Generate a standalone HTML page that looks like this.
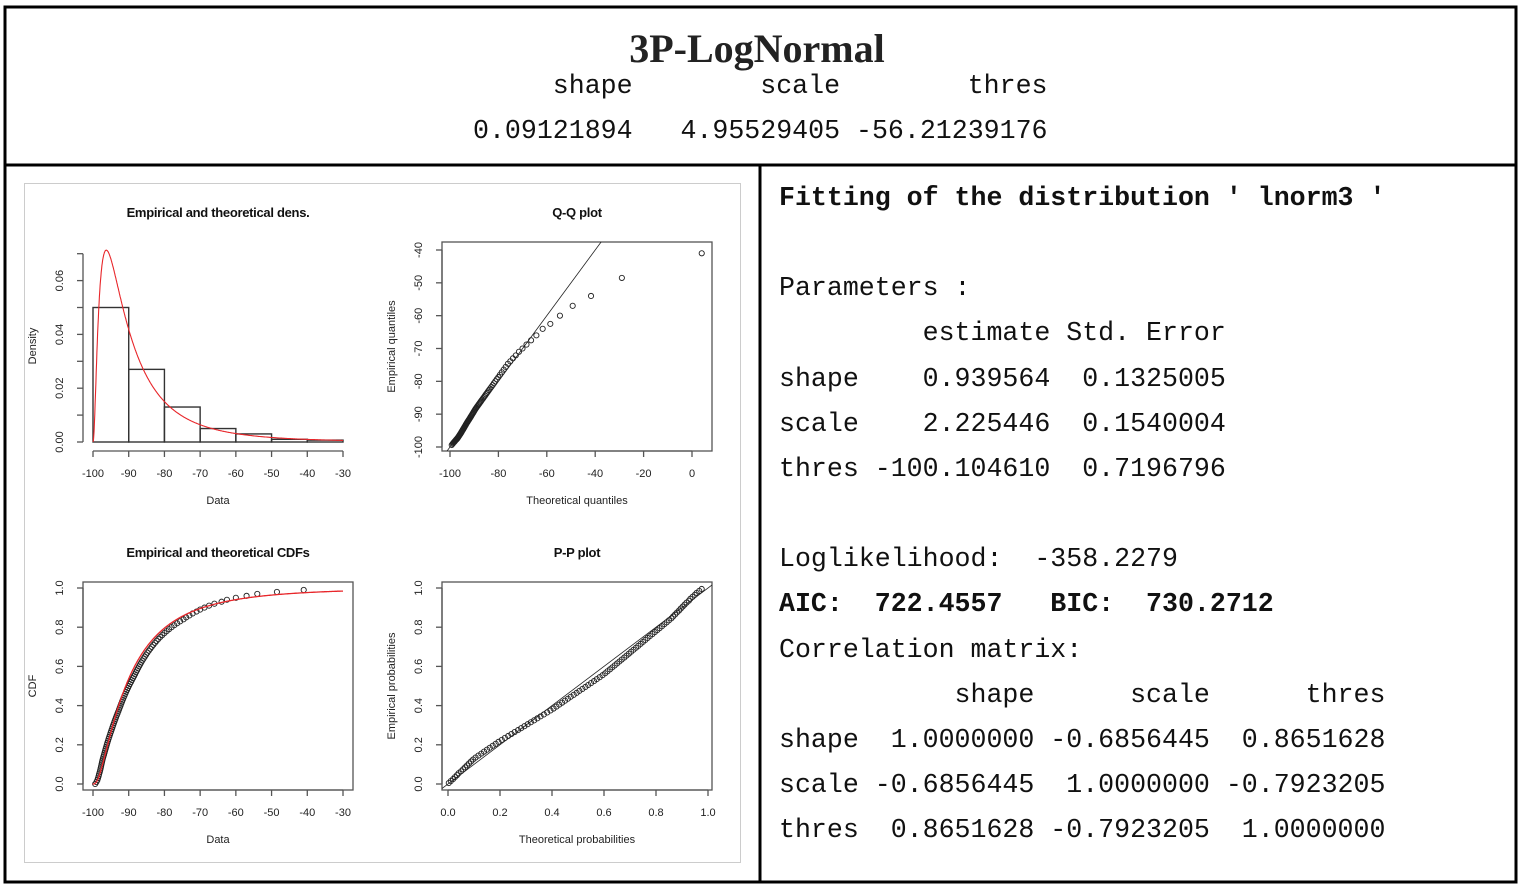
<!DOCTYPE html>
<html><head><meta charset="utf-8"><style>
body{margin:0;background:#fff;width:1523px;height:887px;overflow:hidden}
svg{display:block}
.m{font-family:"Liberation Mono",monospace;font-size:26.6px;fill:#111;white-space:pre}
.b{font-weight:bold}
.t{font-family:"Liberation Sans",sans-serif;font-size:11px;fill:#222}
.tt{font-family:"Liberation Sans",sans-serif;font-size:13px;font-weight:bold;fill:#111;letter-spacing:-0.3px}
</style></head><body>
<svg id="s" width="1523" height="887" xmlns="http://www.w3.org/2000/svg">
<rect x="5" y="7" width="1511" height="875" fill="none" stroke="#000" stroke-width="3"/>
<line x1="5" y1="165" x2="1516" y2="165" stroke="#000" stroke-width="3"/>
<line x1="760" y1="165" x2="760" y2="882" stroke="#000" stroke-width="3"/>
<text x="757" y="62" text-anchor="middle" style="font-family:'Liberation Serif',serif;font-weight:bold;font-size:40px;fill:#222">3P-LogNormal</text>
<text class="m" x="473" y="93">     shape        scale        thres</text>
<text class="m" x="473" y="138">0.09121894   4.95529405 -56.21239176</text>
<rect x="24.5" y="183.5" width="716" height="679" fill="none" stroke="#ccc"/>
<g>
<text class="m b" x="779" y="205">Fitting of the distribution ' lnorm3 '</text>
<text class="m" x="779" y="295">Parameters :</text>
<text class="m" x="779" y="340">         estimate Std. Error</text>
<text class="m" x="779" y="386">shape    0.939564  0.1325005</text>
<text class="m" x="779" y="431">scale    2.225446  0.1540004</text>
<text class="m" x="779" y="476">thres -100.104610  0.7196796</text>
<text class="m" x="779" y="566">Loglikelihood:  -358.2279</text>
<text class="m b" x="779" y="611">AIC:  722.4557   BIC:  730.2712</text>
<text class="m" x="779" y="657">Correlation matrix:</text>
<text class="m" x="779" y="702">           shape      scale      thres</text>
<text class="m" x="779" y="747">shape  1.0000000 -0.6856445  0.8651628</text>
<text class="m" x="779" y="792">scale -0.6856445  1.0000000 -0.7923205</text>
<text class="m" x="779" y="837">thres  0.8651628 -0.7923205  1.0000000</text>
</g>
</svg>
<script>
const fitThres = -100.10461;
const fitMeanlog = 2.225446;
const fitSdlog = 0.939564;
const histBreaks = [-100,-90,-80,-70,-60,-50,-40,-30];
const histDensity = [0.050,0.027,0.013,0.005,0.003,0.001,0.0007];
const empData = [-99.4,-99.03,-98.78,-98.6,-98.43,-98.3,-98.13,-97.99,-97.86,-97.74,
-97.62,-97.5,-97.38,-97.24,-97.08,-96.92,-96.77,-96.61,-96.46,-96.3,
-96.14,-95.99,-95.81,-95.64,-95.46,-95.28,-95.1,-94.91,-94.73,-94.54,
-94.35,-94.16,-93.96,-93.76,-93.56,-93.35,-93.13,-92.91,-92.7,-92.5,
-92.3,-92.09,-91.88,-91.66,-91.44,-91.2,-90.96,-90.73,-90.47,-90.21,
-89.95,-89.68,-89.4,-89.12,-88.82,-88.52,-88.23,-87.97,-87.68,-87.4,
-87.1,-86.8,-86.49,-86.17,-85.82,-85.49,-85.13,-84.77,-84.38,-83.96,
-83.55,-83.11,-82.65,-82.19,-81.69,-81.16,-80.59,-80.0,-79.36,-78.71,
-78.0,-77.25,-76.43,-75.6,-74.65,-73.9,-73.0,-72.1,-71.0,-70.0,
-68.8,-67.5,-66.0,-64.0,-62.5,-60.0,-57.0,-54.0,-48.5,-41.0];
const dataTicks = [-100,-90,-80,-70,-60,-50,-40,-30];
const densTicks = [0,0.01,0.02,0.03,0.04,0.05,0.06,0.07];
const densTickLabels = ["0.00","","0.02","","0.04","","0.06",""];
const qqXTicks = [-100,-80,-60,-40,-20,0];
const qqYTicks = [-100,-90,-80,-70,-60,-50,-40];
const probTicks = [0,0.2,0.4,0.6,0.8,1];
const probTickLabels = ["0.0","0.2","0.4","0.6","0.8","1.0"];

const NS="http://www.w3.org/2000/svg", S=document.getElementById('s');
function el(tag,attrs,parent){const e=document.createElementNS(NS,tag);for(const k in attrs)e.setAttribute(k,attrs[k]);(parent||S).appendChild(e);return e;}
function txt(x,y,s,cls,parent,rot,anchor){const e=el('text',{x:x,y:y,class:cls,'text-anchor':anchor||'middle'},parent);if(rot)e.setAttribute('transform','rotate(-90 '+x+' '+y+')');e.textContent=s;return e;}
function erf(x){const s=x<0?-1:1;x=Math.abs(x);const t=1/(1+0.3275911*x);const y=1-(((((1.061405429*t-1.453152027)*t)+1.421413741)*t-0.284496736)*t+0.254829592)*t*Math.exp(-x*x);return s*y;}
function pnorm(z){return 0.5*(1+erf(z/Math.SQRT2));}
function qnorm(p){const a=[-39.69683028665376,220.9460984245205,-275.9285104469687,138.357751867269,-30.66479806614716,2.506628277459239],b=[-54.47609879822406,161.5858368580409,-155.6989798598866,66.80131188771972,-13.28068155288572],c=[-0.007784894002430293,-0.3223964580411365,-2.400758277161838,-2.549732539343734,4.374664141464968,2.938163982698783],d=[0.007784695709041462,0.3224671290700398,2.445134137142996,3.754408661907416];const pl=0.02425;let q,r;if(p<pl){q=Math.sqrt(-2*Math.log(p));return(((((c[0]*q+c[1])*q+c[2])*q+c[3])*q+c[4])*q+c[5])/((((d[0]*q+d[1])*q+d[2])*q+d[3])*q+1);}if(p>1-pl){q=Math.sqrt(-2*Math.log(1-p));return-(((((c[0]*q+c[1])*q+c[2])*q+c[3])*q+c[4])*q+c[5])/((((d[0]*q+d[1])*q+d[2])*q+d[3])*q+1);}q=p-0.5;r=q*q;return(((((a[0]*r+a[1])*r+a[2])*r+a[3])*r+a[4])*r+a[5])*q/(((((b[0]*r+b[1])*r+b[2])*r+b[3])*r+b[4])*r+1);}
function dl(x){const u=x-fitThres;if(u<=0)return 0;const z=(Math.log(u)-fitMeanlog)/fitSdlog;return Math.exp(-z*z/2)/(u*fitSdlog*Math.sqrt(2*Math.PI));}
function pl(x){const u=x-fitThres;if(u<=0)return 0;return pnorm((Math.log(u)-fitMeanlog)/fitSdlog);}
function ql(p){return fitThres+Math.exp(fitMeanlog+fitSdlog*qnorm(p));}
function lin(d0,d1,r0,r1){return v=>r0+(v-d0)*(r1-r0)/(d1-d0);}
const n=empData.length, sorted=empData.slice().sort((a,b)=>a-b);

function axes(g,X,Y,xt,xl,yt,yl,box,xAxisY,yAxisX,title,xlab,ylab,cx,titleY){
  if(box){const r=el('rect',{x:box[0],y:box[1],width:box[2]-box[0],height:box[3]-box[1],fill:'none',stroke:'#555','stroke-width':1.3},g);
    
    }
  const xa=el('g',{},g);
  
  
  el('line',{x1:X(xt[0]),x2:X(xt[xt.length-1]),y1:xAxisY,y2:xAxisY,stroke:'#555','stroke-width':1.3},xa);
  xt.forEach((v,i)=>{el('line',{x1:X(v),x2:X(v),y1:xAxisY,y2:xAxisY+6,stroke:'#555','stroke-width':1.3},xa);txt(X(v),xAxisY+26,xl[i],'t',xa);});
  const ya=el('g',{},g);
  
  
  el('line',{x1:yAxisX,x2:yAxisX,y1:Y(yt[0]),y2:Y(yt[yt.length-1]),stroke:'#555','stroke-width':1.3},ya);
  yt.forEach((v,i)=>{el('line',{x1:yAxisX,x2:yAxisX-6,y1:Y(v),y2:Y(v),stroke:'#555','stroke-width':1.3},ya);txt(yAxisX-20,Y(v),yl[i],'t',ya,true);});
  const t=txt(cx,titleY,title,'tt',g);
  
  
  const xlt=txt(cx,xAxisY+53,xlab,'t',g);
  
  
  const ylt=txt(yAxisX-47,(box?(box[1]+box[3])/2:346),ylab,'t',g,true);
  
  
}
function circle(g,x,y){const c=el('circle',{cx:x,cy:y,r:2.6,fill:'none',stroke:'#222','stroke-width':0.9},g);}

// Density panel
{const g=el('g',{});


const X=lin(-100,-30,93,343),Y=lin(0,0.06,442,280.6);
axes(g,X,Y,dataTicks,dataTicks.map(String),densTicks,densTickLabels,null,451,83,'Empirical and theoretical dens.','Data','Density',218,217);
histDensity.forEach((d,i)=>{const r=el('rect',{x:X(histBreaks[i]),y:Y(d),width:X(histBreaks[i+1])-X(histBreaks[i]),height:Y(0)-Y(d),fill:'none',stroke:'#333','stroke-width':1.4},g);

});
let p='';for(let x=-100;x<=-30;x+=0.1){p+=(p?'L':'M')+X(x).toFixed(1)+','+Y(dl(x)).toFixed(1);}
const c=el('path',{d:p,fill:'none',stroke:'#e8262a','stroke-width':1.1},g);

}

// QQ panel
{const g=el('g',{});


const X=lin(-100,0,450,692),Y=lin(-100,-40,447,250);
axes(g,X,Y,qqXTicks,qqXTicks.map(String),qqYTicks,qqYTicks.map(String),[442,242,712,451],451,442,'Q-Q plot','Theoretical quantiles','Empirical quantiles',577,217);
const cp=el('clipPath',{id:'qqc'},g);el('rect',{x:442,y:242,width:270,height:209},cp);
const l=el('line',{x1:X(-102),y1:Y(-102),x2:X(-30),y2:Y(-30),stroke:'#222','stroke-width':0.8,'clip-path':'url(#qqc)'},g);


sorted.forEach((v,i)=>circle(g,X(ql((i+0.5)/n)),Y(v)));}

// CDF panel
{const g=el('g',{});


const X=lin(-100,-30,93,343),Y=lin(0,1,784,588);
axes(g,X,Y,dataTicks,dataTicks.map(String),probTicks,probTickLabels,[83,582,353,790],790,83,'Empirical and theoretical CDFs','Data','CDF',218,557);
sorted.forEach((v,i)=>circle(g,X(v),Y((i)/n)));
let p='';for(let x=-100.1;x<=-30;x+=0.1){p+=(p?'L':'M')+X(x).toFixed(1)+','+Y(pl(x)).toFixed(1);}
const c=el('path',{d:p,fill:'none',stroke:'#e8262a','stroke-width':1.3},g);

}

// PP panel
{const g=el('g',{});


const X=lin(0,1,448,708),Y=lin(0,1,784,588);
axes(g,X,Y,probTicks,probTickLabels,probTicks,probTickLabels,[442,582,712,790],790,442,'P-P plot','Theoretical probabilities','Empirical probabilities',577,557);
const cp=el('clipPath',{id:'ppc'},g);el('rect',{x:442,y:582,width:270,height:208},cp);
const l=el('line',{x1:X(-0.1),y1:Y(-0.1),x2:X(1.1),y2:Y(1.1),stroke:'#222','stroke-width':0.8,'clip-path':'url(#ppc)'},g);


sorted.forEach((v,i)=>circle(g,X(pl(v)),Y((i+0.5)/n)));}
</script>
</body></html>
